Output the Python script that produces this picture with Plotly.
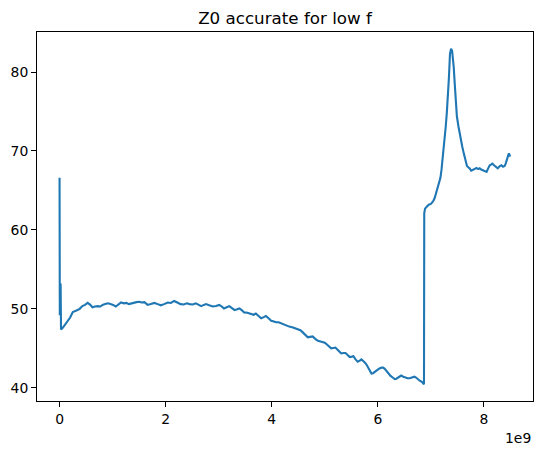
import plotly.graph_objects as go

# Frequency (GHz) and Z0 (ohm)
freq_ghz = [
    0.000, 0.005, 0.012, 0.020, 0.028, 0.06, 0.10, 0.15, 0.20, 0.25, 0.30, 0.34, 0.38, 0.43, 0.48,
    0.53, 0.58, 0.62, 0.67, 0.72, 0.77, 0.81, 0.86, 0.91, 0.96, 1.01, 1.06, 1.11, 1.16, 1.21,
    1.26, 1.31, 1.35, 1.40, 1.45, 1.50, 1.55, 1.60, 1.66, 1.72, 1.79, 1.85, 1.91, 1.97, 2.04,
    2.10, 2.16, 2.22, 2.28, 2.34, 2.40, 2.45, 2.51, 2.57, 2.62, 2.67, 2.72, 2.76, 2.82, 2.89,
    2.95, 3.01, 3.06, 3.10, 3.15, 3.20, 3.25, 3.30, 3.35, 3.39, 3.44, 3.48, 3.54, 3.61, 3.66,
    3.70, 3.75, 3.80, 3.85, 3.89, 3.94, 3.99, 4.04, 4.08, 4.13, 4.18, 4.22, 4.27, 4.33, 4.40,
    4.45, 4.49, 4.54, 4.58, 4.63, 4.68, 4.72, 4.77, 4.82, 4.87, 4.92, 4.96, 5.00, 5.03, 5.08,
    5.12, 5.16, 5.20, 5.26, 5.31, 5.35, 5.39, 5.43, 5.47, 5.51, 5.54, 5.58, 5.62, 5.66, 5.69,
    5.74, 5.78, 5.83, 5.88, 5.91, 5.94, 5.99, 6.03, 6.07, 6.10, 6.13, 6.16, 6.20, 6.24, 6.28,
    6.32, 6.35, 6.38, 6.41, 6.44, 6.48, 6.52, 6.56, 6.60, 6.64, 6.69, 6.72, 6.75, 6.79, 6.83,
    6.87, 6.875, 6.89, 6.93, 6.96, 7.00, 7.04, 7.07, 7.10, 7.13, 7.16, 7.18, 7.20, 7.22, 7.24,
    7.26, 7.28, 7.30, 7.32, 7.34, 7.36, 7.38, 7.40, 7.42, 7.43, 7.45, 7.46, 7.48, 7.49, 7.52,
    7.54, 7.57, 7.59, 7.62, 7.64, 7.66, 7.68, 7.71, 7.73, 7.76, 7.79, 7.82, 7.86, 7.89, 7.92,
    7.95, 7.98, 8.02, 8.05, 8.08, 8.11, 8.14, 8.16, 8.19, 8.22, 8.24, 8.26, 8.30, 8.33, 8.36,
    8.39, 8.41, 8.43, 8.45, 8.47, 8.49, 8.50,
]
z0 = [
    66.6, 49.2, 49.6, 53.2, 47.4, 47.6, 48.0, 48.4, 48.9, 49.6, 49.8, 49.85, 50.0, 50.35, 50.5,
    50.75, 50.5, 50.2, 50.3, 50.35, 50.3, 50.5, 50.6, 50.7, 50.6, 50.5, 50.3, 50.55, 50.8, 50.7,
    50.75, 50.6, 50.7, 50.8, 50.85, 50.9, 50.8, 50.85, 50.5, 50.6, 50.75, 50.6, 50.45, 50.6, 50.8,
    50.75, 51.0, 50.8, 50.6, 50.55, 50.7, 50.6, 50.55, 50.7, 50.5, 50.35, 50.5, 50.6, 50.45, 50.3,
    50.35, 50.5, 50.3, 50.05, 50.2, 50.35, 50.1, 49.85, 49.95, 50.05, 49.8, 49.55, 49.5, 49.35, 49.25,
    49.4, 49.1, 48.8, 48.95, 49.1, 48.8, 48.5, 48.4, 48.3, 48.3, 48.15, 48.0, 47.9, 47.75, 47.65,
    47.5, 47.4, 47.3, 47.05, 46.75, 46.4, 46.45, 46.5, 46.2, 45.95, 45.85, 45.8, 45.7, 45.55, 45.3,
    45.0, 45.05, 45.1, 44.7, 44.35, 44.4, 44.4, 44.15, 43.9, 43.95, 44.0, 43.6, 43.3, 43.45, 43.6,
    43.3, 43.0, 42.4, 41.8, 41.85, 42.0, 42.3, 42.45, 42.55, 42.55, 42.4, 42.15, 41.8, 41.5, 41.3,
    41.1, 41.15, 41.3, 41.45, 41.55, 41.4, 41.25, 41.2, 41.2, 41.25, 41.4, 41.3, 41.1, 40.9, 40.75,
    40.45, 62.1, 62.7, 63.0, 63.2, 63.3, 63.6, 64.0, 64.8, 65.5, 66.1, 66.6, 67.6, 68.8, 70.1,
    71.6, 73.1, 74.8, 76.5, 79.3, 82.3, 82.95, 82.7, 81.6, 80.7, 78.5, 77.3, 75.2, 74.4, 73.1,
    72.3, 71.3, 70.6, 69.7, 69.1, 68.5, 68.1, 67.9, 67.8, 67.5, 67.6, 67.7, 67.85, 67.7, 67.8,
    67.65, 67.55, 67.4, 67.35, 67.8, 68.2, 68.3, 68.4, 68.2, 68.0, 67.85, 67.8, 68.1, 68.2, 68.0,
    68.1, 68.4, 68.9, 69.2, 69.7, 69.4, 69.3,
]

x_tick_vals = [0, 2, 4, 6, 8]
x_tick_text = ["0", "2", "4", "6", "8"]
y_tick_vals = [40, 50, 60, 70, 80]
y_tick_text = ["40", "50", "60", "70", "80"]
title_text = "Z0 accurate for low f"
offset_text = "1e9"

freq_hz = [f * 1e9 for f in freq_ghz]

# matplotlib-like 5% margins
xmin, xmax = min(freq_hz), max(freq_hz)
ymin, ymax = min(z0), max(z0)
xpad = 0.05 * (xmax - xmin)
ypad = 0.05 * (ymax - ymin)

FONT = "DejaVu Sans"

# The page body has an 8 px default margin, so the figure is sized/offset to compensate
W, H = 535, 437

fig = go.Figure()
fig.add_trace(go.Scatter(
    x=freq_hz, y=z0, mode="lines",
    line=dict(color="#1f77b4", width=2.1),
    showlegend=False, hoverinfo="skip",
))

axis_common = dict(
    showline=True, linecolor="black", linewidth=1.1, mirror=True,
    ticks="outside", ticklen=4.9, tickwidth=1.1, tickcolor="black",
    showgrid=False, zeroline=False, automargin=False,
    tickfont=dict(family=FONT, size=13.9, color="black"),
)

fig.update_layout(
    width=W, height=H,
    margin=dict(l=29, r=10, t=24, b=44, autoexpand=False),
    paper_bgcolor="white", plot_bgcolor="white",
    title=dict(text=title_text, x=0.5, xref="paper", xanchor="center",
               y=1 - 10 / H, yref="container", yanchor="middle",
               font=dict(family=FONT, size=16.7, color="black")),
    xaxis=dict(range=[xmin - xpad, xmax + xpad],
               tickvals=[v * 1e9 for v in x_tick_vals], ticktext=x_tick_text,
               **axis_common),
    yaxis=dict(range=[ymin - ypad, ymax + ypad],
               tickvals=y_tick_vals, ticktext=y_tick_text,
               **axis_common),
    annotations=[dict(text=offset_text, xref="paper", yref="paper", x=1, y=0,
                      xanchor="right", yanchor="top", yshift=-27, showarrow=False,
                      font=dict(family=FONT, size=13.9, color="black"))],
)

fig.write_html("out.html")
